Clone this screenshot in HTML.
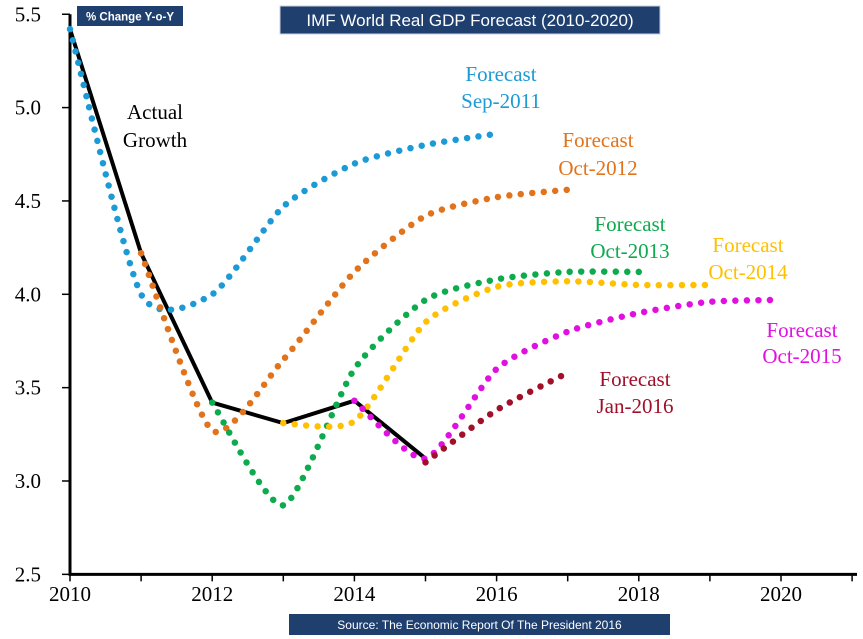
<!DOCTYPE html>
<html><head><meta charset="utf-8"><style>
body{margin:0;background:#fff;}
svg{display:block;}
</style></head><body>
<svg id="chart" width="863" height="639" xmlns="http://www.w3.org/2000/svg">
<rect x="0" y="0" width="863" height="639" fill="#fff"/>
<g id="axes"></g>
<g id="series"></g>
<rect x="77" y="6" width="106" height="20" fill="#1F3F6F"/>
<text x="130" y="20.5" text-anchor="middle" font-family="Liberation Sans, sans-serif" font-size="11.5" font-weight="bold" fill="#fff">% Change Y-o-Y</text>
<rect x="280" y="6" width="380" height="28" fill="#1F3F6F" stroke="#c8d0dc"/>
<text x="470" y="26" text-anchor="middle" font-family="Liberation Sans, sans-serif" font-size="17" fill="#fff">IMF World Real GDP Forecast (2010-2020)</text>
<rect x="289" y="614" width="381" height="21" fill="#1F3F6F"/>
<text x="479.5" y="629" text-anchor="middle" font-family="Liberation Sans, sans-serif" font-size="12" fill="#fff">Source: The Economic Report Of The President 2016</text>
<g font-family="Liberation Serif, serif" font-size="21" text-anchor="middle">
<text x="155" y="119" fill="#000">Actual</text>
<text x="155" y="147" fill="#000">Growth</text>
<text x="501" y="81" fill="#1B9AD6">Forecast</text>
<text x="501" y="108" fill="#1B9AD6">Sep-2011</text>
<text x="598" y="147" fill="#E0731C">Forecast</text>
<text x="598" y="175" fill="#E0731C">Oct-2012</text>
<text x="630" y="231" fill="#0DAA4E">Forecast</text>
<text x="630" y="258" fill="#0DAA4E">Oct-2013</text>
<text x="748" y="252" fill="#FFC000">Forecast</text>
<text x="748" y="279" fill="#FFC000">Oct-2014</text>
<text x="802" y="337" fill="#E010E0">Forecast</text>
<text x="802" y="363" fill="#E010E0">Oct-2015</text>
<text x="635" y="386" fill="#A0102A">Forecast</text>
<text x="635" y="413" fill="#A0102A">Jan-2016</text>
</g>
</svg>
<script>
const xTicks = [2010, 2012, 2014, 2016, 2018, 2020];
const yTicks = [2.5, 3.0, 3.5, 4.0, 4.5, 5.0, 5.5];
const actualYears = [2010, 2011, 2012, 2013, 2014, 2015];
const actualValues = [5.42, 4.22, 3.42, 3.31, 3.43, 3.12];
const sep2011Years = [2010, 2011, 2012, 2013, 2014, 2015, 2016];
const sep2011Values = [5.42, 4.0, 4.0, 4.47, 4.7, 4.8, 4.86];
const oct2012Years = [2011, 2012, 2013, 2014, 2015, 2016, 2017];
const oct2012Values = [4.22, 3.27, 3.65, 4.12, 4.42, 4.52, 4.56];
const oct2013Years = [2012, 2013, 2014, 2015, 2016, 2017, 2018];
const oct2013Values = [3.42, 2.87, 3.6, 3.97, 4.08, 4.12, 4.12];
const oct2014Years = [2013, 2014, 2015, 2016, 2017, 2018, 2019];
const oct2014Values = [3.31, 3.32, 3.85, 4.04, 4.07, 4.05, 4.05];
const oct2015Years = [2014, 2015, 2016, 2017, 2018, 2019, 2020];
const oct2015Values = [3.43, 3.12, 3.6, 3.8, 3.9, 3.96, 3.97];
const jan2016Years = [2015, 2016, 2017];
const jan2016Values = [3.1, 3.38, 3.58];

const NS = "http://www.w3.org/2000/svg";
const X = t => 70 + (t - 2010) * 71.1;
const Y = v => 481 - (v - 3) * 186.7;
const axes = document.getElementById('axes');
const series = document.getElementById('series');
function mk(tag, attrs, parent){const e=document.createElementNS(NS,tag);for(const k in attrs)e.setAttribute(k,attrs[k]);parent.appendChild(e);return e;}

const yAxis = mk('line',{x1:70,y1:Y(5.5),x2:70,y2:Y(2.5),stroke:'#000','stroke-width':3},axes);


const xAxis = mk('line',{x1:68.5,y1:Y(2.5),x2:857,y2:Y(2.5),stroke:'#000','stroke-width':3},axes);


yTicks.forEach(v=>{
  mk('line',{x1:62,y1:Y(v),x2:70,y2:Y(v),stroke:'#000','stroke-width':1.5},axes);
  const t = mk('text',{x:41,y:Y(v)+7,'text-anchor':'end','font-family':'Liberation Serif, serif','font-size':21},axes);
  t.textContent = v.toFixed(1);
  
  
});
for(let yr=2010; yr<=2021; yr++){
  mk('line',{x1:X(yr),y1:Y(2.5),x2:X(yr),y2:Y(2.5)+7,stroke:'#000','stroke-width':1.5},axes);
}
xTicks.forEach(yr=>{
  const t = mk('text',{x:X(yr),y:601,'text-anchor':'middle','font-family':'Liberation Serif, serif','font-size':21},axes);
  t.textContent = yr;
  
  
});

function smoothPath(xs, vs){
  const p = xs.map((x,i)=>[X(x),Y(vs[i])]);
  const k = 9;
  let d = `M${p[0][0]},${p[0][1]}`;
  for(let i=0;i<p.length-1;i++){
    const p0=p[i-1]||p[i], p1=p[i], p2=p[i+1], p3=p[i+2]||p[i+1];
    const c1=[p1[0]+(p2[0]-p0[0])/k, p1[1]+(p2[1]-p0[1])/k];
    const c2=[p2[0]-(p3[0]-p1[0])/k, p2[1]-(p3[1]-p1[1])/k];
    d += ` C${c1[0]},${c1[1]} ${c2[0]},${c2[1]} ${p2[0]},${p2[1]}`;
  }
  return d;
}
const dotted = [
  ['series-sep-2011', sep2011Years, sep2011Values, '#1B9AD6'],
  ['series-oct-2012', oct2012Years, oct2012Values, '#E0731C'],
  ['series-oct-2013', oct2013Years, oct2013Values, '#0DAA4E'],
  ['series-oct-2014', oct2014Years, oct2014Values, '#FFC000'],
  ['series-oct-2015', oct2015Years, oct2015Values, '#E010E0'],
  ['series-jan-2016', jan2016Years, jan2016Values, '#A0102A'],
];
const actualPts = actualYears.map((y,i)=>X(y)+','+Y(actualValues[i])).join(' ');
const actual = mk('polyline',{points:actualPts,fill:'none',stroke:'#000','stroke-width':4,'stroke-linejoin':'round'},series);


dotted.forEach(([name, xs, vs, col])=>{
  const el = mk('path',{d:smoothPath(xs,vs),fill:'none',stroke:col,'stroke-width':6.5,'stroke-linecap':'round','stroke-dasharray':'0 11.5'},series);
  
  
});
</script>
</body></html>
